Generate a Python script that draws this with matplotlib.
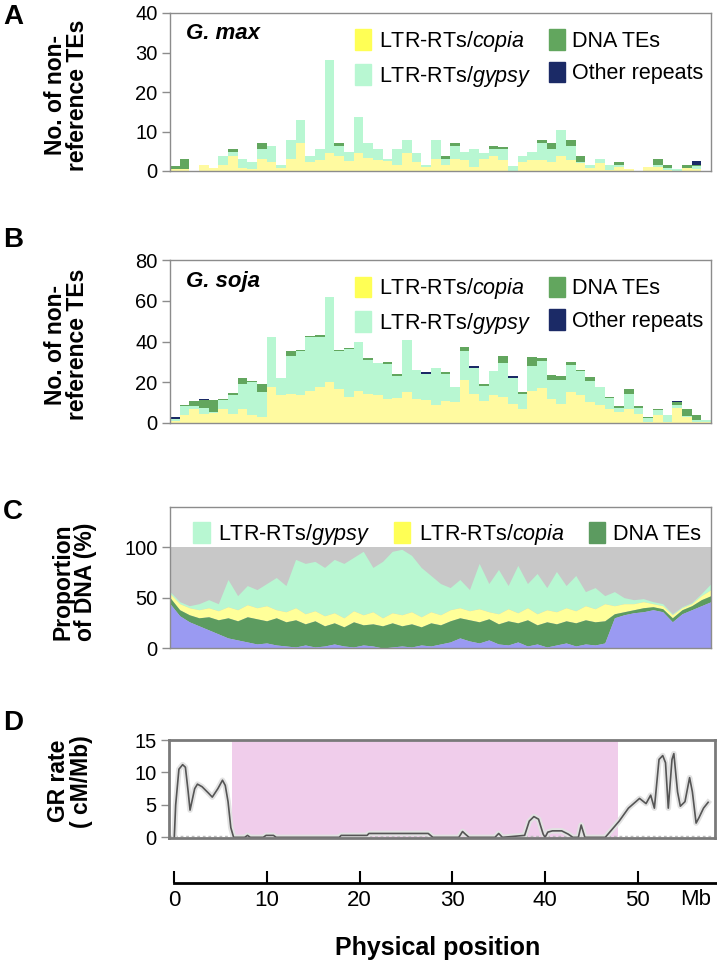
import numpy as np
import matplotlib
matplotlib.use("Agg")
import matplotlib.pyplot as plt
from matplotlib.patches import Patch

plt.rcParams['font.family'] = ['Liberation Sans', 'DejaVu Sans']
plt.rcParams['mathtext.fontset'] = 'custom'
plt.rcParams['mathtext.rm'] = 'Liberation Sans'
plt.rcParams['mathtext.it'] = 'Liberation Sans:italic'

# ---- panel A: G. max non-reference TEs per 1-Mb bin ----
a_copia = [0.5, 0.6, 0, 1.4, 0.7, 1.5, 3.8, 0.8, 0.6, 3.0, 2.3, 0.8, 3.0, 7.0, 2.3, 2.7,
           4.6, 3.8, 2.5, 4.6, 3.3, 2.9, 2.5, 1.5, 4.6, 2.3, 1.0, 3.0, 1.5, 3.0, 2.7, 0.9,
           3.0, 3.8, 2.7, 0, 2.3, 2.7, 2.7, 2.3, 3.8, 2.7, 1.9, 0.8, 2.1, 0.3, 0.9, 0.6,
           0, 0.9, 0.9, 0.2, 0, 0.8, 0.6, 0]
a_gypsy = [0, 0, 0, 0, 0, 2.3, 0.9, 2.2, 1.7, 2.5, 4.1, 0.7, 4.9, 5.8, 1.5, 2.8,
           23.4, 2.5, 2.4, 9.0, 3.9, 2.6, 0.5, 4.0, 3.3, 2.3, 0.5, 4.9, 1.6, 3.3, 2.2, 4.6,
           1.6, 1.7, 2.8, 1.2, 1.5, 2.2, 4.3, 3.2, 6.6, 3.6, 0.4, 0.7, 0.9, 1.2, 0.6, 0,
           0, 0, 0.6, 0.5, 0.6, 0, 0.6, 0]
a_dna = [0.8, 2.4, 0, 0, 0, 0, 0.8, 0, 0, 1.6, 0, 0, 0, 0, 0, 0,
         0, 0.8, 0, 0, 0, 0, 0, 0, 0, 0, 0, 0, 0.7, 0.8, 0, 0,
         0, 0.8, 0.6, 0, 0, 0, 0.9, 1.5, 0, 1.6, 1.5, 0, 0, 0, 0.8, 0,
         0, 0, 1.5, 0.8, 0, 0.7, 0.3, 0]
a_other = [0] * 54 + [1.0, 0]

# ---- panel B: G. soja ----
b_copia = [1.0, 3.7, 7.0, 4.5, 5.0, 7.0, 4.5, 7.0, 3.7, 2.9, 17.9, 13.5, 14.3, 13.5, 15.9, 17.6,
           20.0, 16.7, 13.0, 15.9, 14.3, 13.5, 12.0, 12.5, 15.1, 12.0, 11.4, 8.6, 11.0, 10.2, 21.1, 14.3,
           11.0, 13.5, 12.7, 9.4, 7.0, 15.9, 17.0, 12.0, 9.5, 15.1, 13.5, 10.2, 8.6, 7.0, 5.4, 7.0,
           4.5, 0.5, 3.7, 0.5, 7.3, 2.9, 0.6, 0.5]
b_gypsy = [1.2, 4.4, 1.5, 2.8, 0.5, 4.1, 9.3, 12.2, 16.3, 12.2, 24.1, 8.6, 18.7, 21.6, 26.1, 24.7,
           41.8, 18.4, 23.2, 23.9, 16.6, 15.8, 17.1, 10.6, 25.6, 14.0, 12.7, 18.4, 12.9, 7.7, 14.1, 12.7,
           7.2, 12.2, 16.6, 12.7, 7.3, 12.2, 13.6, 9.3, 11.8, 13.4, 11.9, 10.6, 9.3, 5.2, 1.9, 7.3,
           2.8, 1.8, 2.5, 3.2, 1.3, 0.4, 0.9, 1.0]
b_dna = [0, 0.8, 2.2, 4.1, 6.0, 0.8, 0.8, 2.8, 0.8, 3.8, 0, 0, 2.1, 0.8, 0.8, 0.8,
         0, 0.8, 0.8, 0, 1.0, 0, 1.0, 1.0, 0, 0, 0, 0, 1.0, 0, 1.9, 0,
         1.0, 0, 3.7, 0, 0.8, 4.4, 1.1, 2.4, 1.6, 1.6, 0.8, 1.6, 0, 0.8, 0.8, 2.4,
         0.8, 0.6, 0.8, 0, 1.6, 3.7, 2.2, 0]
b_other = [0.5, 0, 0, 0.5, 0, 0, 0, 0, 0, 0, 0, 0, 0, 0, 0, 0,
           0, 0, 0, 0, 0, 0, 0, 0, 0, 0, 0.8, 0, 0, 0, 0, 0.8,
           0, 0, 0, 0.8, 0, 0, 0, 0, 0, 0, 0, 0, 0, 0, 0, 0,
           0, 0, 0, 0, 0.8, 0, 0, 0]

# ---- panel C: proportion of DNA (%), cumulative upper edges of each layer ----
c_pos = list(range(57))
c_other_top = [44, 32, 26, 22, 18, 14, 10, 8, 6, 4, 5, 3, 2, 1, 3, 1, 2, 4, 2, 1,
               3, 2, 0, 1, 2, 1, 3, 2, 4, 6, 10, 7, 5, 8, 4, 3, 6, 2, 4, 1,
               3, 5, 2, 4, 3, 5, 30, 33, 35, 36, 38, 36, 26, 34, 38, 42, 46]
c_dna_top = [50, 38, 33, 30, 31, 28, 30, 27, 31, 29, 27, 30, 26, 28, 24, 27, 22, 25, 21, 26,
             23, 24, 22, 25, 22, 24, 21, 25, 23, 27, 30, 28, 26, 29, 24, 27, 25, 28, 23, 26,
             24, 27, 25, 28, 26, 27, 34, 36, 38, 40, 41, 39, 30, 38, 42, 48, 52]
c_copia_top = [54, 44, 40, 38, 40, 37, 41, 38, 43, 40, 42, 38, 36, 40, 34, 37, 32, 35, 30, 37,
               33, 36, 30, 35, 33, 36, 31, 36, 33, 38, 40, 37, 39, 36, 34, 39, 35, 40, 34, 38,
               36, 40, 37, 42, 39, 44, 42, 44, 44, 46, 44, 42, 33, 40, 44, 52, 58]
c_gypsy_top = [56, 46, 42, 44, 48, 44, 68, 52, 62, 58, 64, 70, 62, 88, 84, 86, 80, 88, 84, 90,
               96, 80, 86, 96, 98, 92, 80, 72, 64, 60, 68, 58, 84, 64, 78, 62, 82, 64, 74, 60,
               76, 62, 72, 56, 60, 52, 56, 50, 48, 49, 46, 44, 34, 41, 45, 54, 64]

# ---- panel D: genetic recombination rate (cM/Mb) ----
d_pos = [0, 0.15, 0.5, 0.9, 1.2, 1.5, 1.7, 2.2, 2.5, 3.0, 3.7, 4.1, 4.7, 5.2, 5.5, 5.8, 6.1, 6.4,
         7.6, 7.9, 8.2, 9.6, 9.9, 10.7, 11.0, 17.8, 18.0, 20.8, 21.0, 27.4, 27.9, 30.7, 31.1, 31.4, 31.8,
         34.6, 35.0, 35.4, 37.8, 38.3, 38.8, 39.3, 39.8, 40.0, 40.3, 40.8, 41.8, 42.5, 43.0,
         43.6, 43.9, 44.3, 46.5, 48.0, 49.0, 50.2, 50.9, 51.4, 51.8, 52.3, 52.7, 53.0, 53.3,
         53.7, 53.9, 54.3, 54.6, 55.1, 55.6, 55.9, 56.3, 56.6, 57.1, 57.6]
d_rate = [0, 5, 10.5, 11.2, 10.8, 7, 4.2, 7.5, 8.2, 7.8, 6.8, 6.2, 7.5, 8.8, 8.0, 5.5, 1.5, 0,
          0, 0.3, 0, 0, 0.3, 0.3, 0, 0, 0.3, 0.3, 0.6, 0.6, 0, 0, 0.9, 0.5, 0,
          0, 0.6, 0, 0.3, 2.5, 3.2, 2.8, 0.5, 0, 0.8, 1.0, 1.0, 0.5, 0,
          0, 1.9, 0, 0, 2.5, 4.5, 6.0, 5.2, 6.5, 4.5, 12.0, 12.6, 11.5, 4.5,
          12.0, 12.9, 7.0, 4.8, 5.5, 9.2, 7.0, 2.2, 3.0, 4.5, 5.4]
d_pericentromere = (6.2, 47.9)
pos_ticks = [0, 10, 20, 30, 40, 50]

# colours
COPIA = '#fffaa0'
GYPSY = '#b8f7d2'
DNA = '#62a65e'
OTHER = '#1b2a66'
COPIA_KEY = '#ffff55'

TICK_FS = 14.5
LEG_FS = 15.5
LAB_FS = 16.5

W, H = 717, 965
fig = plt.figure(figsize=(W / 100, H / 100), dpi=100)


def rect(left, top, right, bottom):
    return [left / W, 1 - bottom / H, (right - left) / W, (bottom - top) / H]


def style_box(ax, color='#8c8c8c', lw=1.0):
    for s in ax.spines.values():
        s.set_color(color)
        s.set_linewidth(lw)
    ax.tick_params(axis='y', length=6, width=1, color='#8c8c8c', labelsize=TICK_FS, pad=3)
    ax.set_xticks([])


def te_bars(ax, copia, gypsy, dna, other, ymax, yticks, species):
    x = np.arange(len(copia)) + 0.5
    copia = np.array(copia)
    gypsy = np.array(gypsy)
    dna = np.array(dna)
    ax.bar(x, copia, width=1.0, color=COPIA, linewidth=0)
    ax.bar(x, gypsy, width=1.0, bottom=copia, color=GYPSY, linewidth=0)
    ax.bar(x, dna, width=1.0, bottom=copia + gypsy, color=DNA, linewidth=0)
    ax.bar(x, other, width=1.0, bottom=copia + gypsy + dna, color=OTHER, linewidth=0)
    ax.set_xlim(0, len(copia))
    ax.set_ylim(0, ymax)
    ax.set_yticks(yticks)
    style_box(ax)
    ax.set_ylabel('No. of non-\nreference TEs', fontsize=LAB_FS, fontweight='bold',
                  linespacing=0.95)
    ax.yaxis.set_label_coords(-0.15, 0.48)
    ax.text(0.03, 0.87, species, transform=ax.transAxes, fontsize=16,
            fontweight='bold', style='italic', va='center')
    handles = [Patch(color=COPIA_KEY), Patch(color=GYPSY), Patch(color=DNA), Patch(color=OTHER)]
    labels = [r'LTR-RTs/$\it{copia}$', r'LTR-RTs/$\it{gypsy}$', 'DNA TEs', 'Other repeats']
    ax.legend(handles, labels, ncol=2, loc='upper right', bbox_to_anchor=(1.01, 0.98),
              frameon=False, handlelength=0.75, handleheight=1.1, handletextpad=0.35,
              columnspacing=0.8, labelspacing=0.45, borderaxespad=0.2,
              prop={'size': LEG_FS})


# A
axA = fig.add_axes(rect(170, 13, 711, 171))
te_bars(axA, a_copia, a_gypsy, a_dna, a_other, 40, [0, 10, 20, 30, 40], 'G. max')

# B
axB = fig.add_axes(rect(170, 260, 711, 423))
te_bars(axB, b_copia, b_gypsy, b_dna, b_other, 80, [0, 20, 40, 60, 80], 'G. soja')

# C
axC = fig.add_axes(rect(170, 507, 711, 648))
axC.fill_between(c_pos, 0, 100, color='#c8c8c8', linewidth=0)
axC.fill_between(c_pos, c_copia_top, c_gypsy_top, color=GYPSY, linewidth=0)
axC.fill_between(c_pos, c_dna_top, c_copia_top, color='#ffff99', linewidth=0)
axC.fill_between(c_pos, c_other_top, c_dna_top, color='#5c9b60', linewidth=0)
axC.fill_between(c_pos, 0, c_other_top, color='#9a9af2', linewidth=0)
axC.set_xlim(0, 56)
axC.set_ylim(0, 140)
axC.set_yticks([0, 50, 100])
style_box(axC)
axC.set_ylabel('Proportion\nof DNA (%)', fontsize=LAB_FS, fontweight='bold', linespacing=0.95)
axC.yaxis.set_label_coords(-0.135, 0.47)
c_handles = [Patch(color=GYPSY), Patch(color='#ffff55'), Patch(color='#5c9b60')]
c_labels = [r'LTR-RTs/$\it{gypsy}$', r'LTR-RTs/$\it{copia}$', 'DNA TEs']
axC.legend(c_handles, c_labels, ncol=3, loc='upper right', bbox_to_anchor=(1.01, 1.0),
           frameon=False, handlelength=0.75, handleheight=1.1, handletextpad=0.4,
           columnspacing=1.1, borderaxespad=0.3, prop={'size': LEG_FS})

# D
axD = fig.add_axes(rect(169, 740, 715, 838))
axD.axvspan(*d_pericentromere, color='#f0cdeb', linewidth=0)
axD.axhline(0.15, color='#bbbbbb', lw=1, ls=(0, (2, 2)))
axD.plot(d_pos, d_rate, color='#e2e2e2', lw=4, solid_joinstyle='round')
axD.plot(d_pos, d_rate, color='#555555', lw=1.2)
axD.set_xlim(-0.57, 58.34)
axD.set_ylim(-0.1, 15)
axD.set_yticks([0, 5, 10, 15])
style_box(axD, color='#7a7a7a', lw=2)
axD.set_ylabel('GR rate\n( cM/Mb)', fontsize=LAB_FS, fontweight='bold', linespacing=0.95)
axD.yaxis.set_label_coords(-0.14, 0.58)

# physical position scale
axX = fig.add_axes(rect(169, 860, 717, 883))
axX.set_xlim(-0.57, 58.56)
for s in ['top', 'left', 'right']:
    axX.spines[s].set_visible(False)
axX.spines['bottom'].set_bounds(0, 58.56)
axX.spines['bottom'].set_linewidth(2)
axX.set_yticks([])
axX.set_xticks(pos_ticks)
axX.tick_params(axis='x', direction='in', length=9, width=1.5, labelsize=16, pad=5)
axX.text(56.3, -0.72, 'Mb', transform=axX.get_xaxis_transform(), ha='center',
         va='center', fontsize=16)
fig.text(438 / W, 1 - 948 / H, 'Physical position', ha='center', va='center',
         fontsize=18, fontweight='bold')

# panel letters
for letter, y in [('A', 17), ('B', 240), ('C', 512), ('D', 723)]:
    fig.text(3 / W, 1 - y / H, letter, fontsize=20, fontweight='bold', va='center')

fig.savefig('out.png', dpi=100)
